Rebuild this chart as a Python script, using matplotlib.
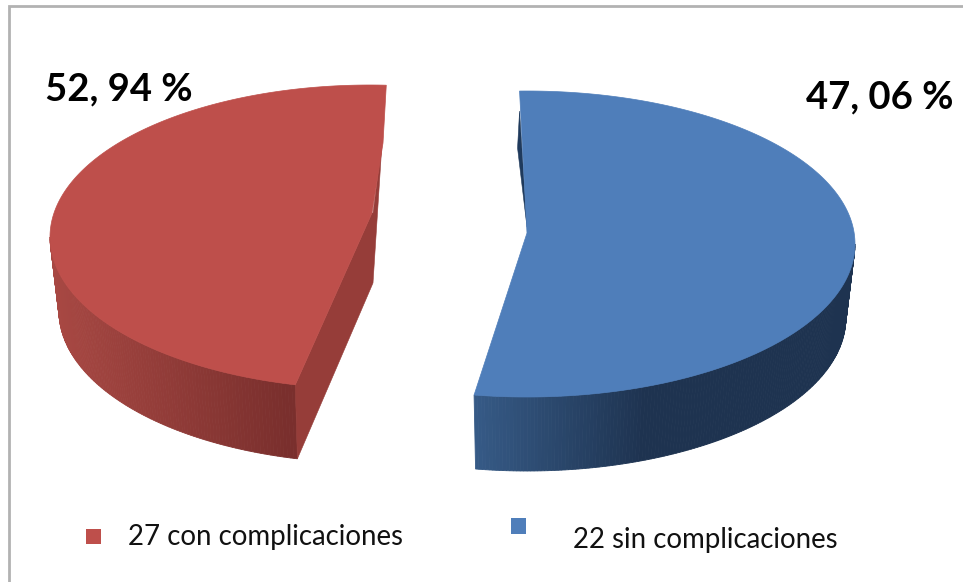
import numpy as np
import matplotlib
matplotlib.use("Agg")
import matplotlib.pyplot as plt
from matplotlib.patches import Rectangle

# Data
slice_names = ["sin complicaciones", "con complicaciones"]
slice_shares = [52.94, 47.06]          # share of the pie each drawn slice occupies
pct_labels = ["47, 06 %", "52, 94 %"]
legend_labels = ["22 sin complicaciones", "27 con complicaciones"]

W, H = 963, 582
plt.rcParams['font.family'] = ['Lato', 'DejaVu Sans']
fig = plt.figure(figsize=(W / 100, H / 100), dpi=100, facecolor='white')
ax = fig.add_axes([0, 0, 1, 1])
ax.set_xlim(0, W)
ax.set_ylim(H, 0)
ax.axis('off')

# frame
ax.add_patch(Rectangle((8.5, 6), W + 20, H + 20, fc='white', ec='#b2b2b2', lw=2))

DEPTH = 74
def lerp(c0, c1, t):
    c0, c1 = np.array(matplotlib.colors.to_rgb(c0)), np.array(matplotlib.colors.to_rgb(c1))
    return tuple(c0 + (c1 - c0) * float(np.clip(t, 0, 1)))

def arc(cx, cy, rx, ry, a0, a1, n=240):
    th = np.radians(np.linspace(a0, a1, n))
    return cx + rx * np.sin(th), cy - ry * np.cos(th)

def side(cx, cy, rx, ry, a0, a1, colfn, n=120):
    """outer wall between the top ellipse and the slightly narrower lower one"""
    xt, yt = arc(cx, cy, rx, ry, a0, a1, n + 1)
    xb, yb = arc(cx, cy + DEPTH, rx * 0.972, ry, a0, a1, n + 1)
    for i in range(n):
        c = colfn(0.5 * (xt[i] + xt[i + 1]))
        ax.fill([xt[i], xt[i + 1], xb[i + 1], xb[i]],
                [yt[i], yt[i + 1], yb[i + 1], yb[i]],
                fc=c, ec=c, lw=0.6, zorder=2)

total = sum(slice_shares)
blue_sweep = 360 * slice_shares[0] / total
red_sweep = 360 * slice_shares[1] / total

# --- blue slice (clockwise from just left of the top)
b = dict(cx=527, cy=244, rx=328, ry=153)
b_start = -1.3
b_end = b_start + blue_sweep
b_apex = (527, 233)
side(**b, a0=90, a1=b_end,
     colfn=lambda x: lerp('#365a86', '#1e3350', (x - 475) / 170), n=160)
x, y = arc(**b, a0=b_start, a1=b_end)
# back sliver of the cut face
ax.fill([x[0], x[0] - 2, b_apex[0]], [y[0] + 20, y[0] + 57, b_apex[1] - 6],
        fc='#1f3a5c', ec='#1f3a5c', lw=0.4, zorder=2)
ax.fill(np.r_[x, b_apex[0]], np.r_[y, b_apex[1]], fc='#4f7eba', ec='#4f7eba', lw=0.5, zorder=3)

# --- red slice
r = dict(cx=370, cy=237, rx=320, ry=152)
r_start = 193.5
r_end = r_start + red_sweep
r_apex = (372, 213)
side(**r, a0=r_start, a1=270,
     colfn=lambda x: lerp('#7a2f2d', '#a84843', (285 - x) / 235), n=120)
x, y = arc(**r, a0=r_start, a1=r_end)
bx, by = arc(r['cx'], r['cy'] + DEPTH, r['rx'] * 0.972, r['ry'], r_start, r_start, 1)
cut_x = [x[0], r_apex[0], r_apex[0] + 1, r_apex[0] + 10, r_apex[0] + 1, bx[0]]
cut_y = [y[0], r_apex[1], r_apex[1], r_apex[1] - 70, r_apex[1] + 70, by[0]]
ax.fill(cut_x, cut_y, fc='#963d39', ec='#963d39', lw=0.4, zorder=2)
ax.fill(np.r_[x, r_apex[0] + 11, r_apex[0]], np.r_[y, r_apex[1] - 70, r_apex[1]],
        fc='#be4f4b', ec='#be4f4b', lw=0.5, zorder=3)

# labels
ax.text(45, 89, pct_labels[1], fontsize=27.5, fontweight='bold', color='black', va='center', ha='left', zorder=5)
ax.text(806, 97, pct_labels[0], fontsize=27.5, fontweight='bold', color='black', va='center', ha='left', zorder=5)

# legend
ax.add_patch(Rectangle((86, 529), 15, 15, fc='#be4f4b', ec='none'))
ax.add_patch(Rectangle((511, 518), 15, 16, fc='#4f7eba', ec='none'))
ax.text(128, 537, legend_labels[1], fontsize=19.9, color='#111111', va='center', ha='left')
ax.text(573, 540, legend_labels[0], fontsize=19.9, color='#111111', va='center', ha='left')

fig.savefig('out.png', dpi=100, facecolor='white')
